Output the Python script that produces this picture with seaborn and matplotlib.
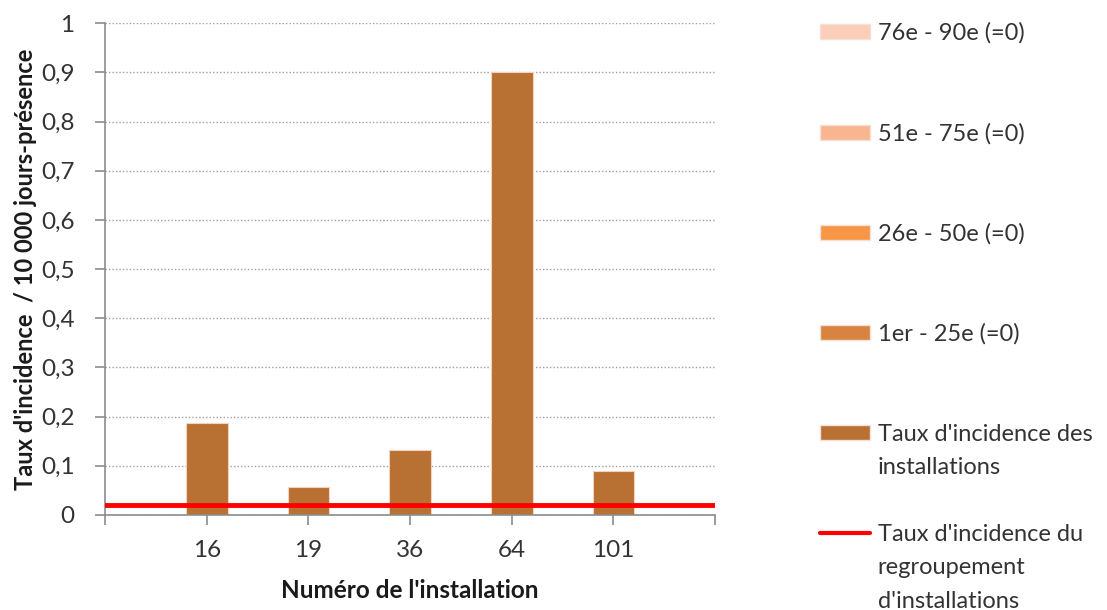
import pandas as pd
import matplotlib
matplotlib.use("Agg")
import matplotlib.pyplot as plt
from matplotlib.patches import Patch
from matplotlib.lines import Line2D
import seaborn as sns

# Data
installations = ["16", "19", "36", "64", "101"]
incidence = [0.187, 0.057, 0.131, 0.900, 0.089]
regroupement = 0.02

legend_labels = ["76e - 90e (=0)", "51e - 75e (=0)", "26e - 50e (=0)", "1er - 25e (=0)"]
legend_colors = ["#FCCDB7", "#F9B58F", "#F79646", "#D8833F"]
bar_color = "#B87033"
line_color = "#FF0000"

sns.set_style("white")
plt.rcParams["font.family"] = ["Lato", "DejaVu Sans"]
text_color = "#333333"

df = pd.DataFrame({"installation": installations, "taux": incidence})

fig = plt.figure(figsize=(11.07, 6.10), dpi=100)
ax = fig.add_axes([0.095, 0.156, 0.551, 0.806])

sns.barplot(data=df, x="installation", y="taux", order=installations,
            color=bar_color, saturation=1, width=0.41,
            edgecolor="#F3D3C0", linewidth=0.8, ax=ax, zorder=2)

ax.axhline(regroupement, color=line_color, lw=3.5, zorder=3)

ax.set_xlim(-1, 5)
ax.set_ylim(0, 1)
ax.set_xticks(range(-1, 6))
ax.set_xticklabels([""] + installations + [""])
yt = [i / 10 for i in range(11)]
ax.set_yticks(yt)
ax.set_yticklabels(["0" if v == 0 else ("1" if v == 1 else f"{v:.1f}".replace(".", ",")) for v in yt])

ax.yaxis.grid(True, linestyle=(0, (1, 1.5)), color="#A0A0A0", lw=1.0, zorder=0)
ax.xaxis.grid(False)
for s in ["top", "right"]:
    ax.spines[s].set_visible(False)
for s in ["left", "bottom"]:
    ax.spines[s].set_color("#8C8C8C")
    ax.spines[s].set_linewidth(1.2)

ax.tick_params(axis="both", which="major", direction="out", length=7, width=1.2,
               color="#8C8C8C", labelsize=17.5, labelcolor=text_color)
ax.tick_params(axis="y", left=True, pad=15)
ax.tick_params(axis="x", bottom=True, pad=11)

ax.set_xlabel("Numéro de l'installation", fontsize=17.5, fontweight="bold",
              color="#1a1a1a", labelpad=13)
ax.set_ylabel("Taux d'incidence  / 10 000 jours-présence", fontsize=17,
              fontweight="bold", color="#1a1a1a", labelpad=3)

# Legend: one entry per block, handle aligned with the first text line
blank = Patch(facecolor="none", edgecolor="none")
entries = [(Patch(facecolor=c, edgecolor="#F5E0D5"), [l]) for c, l in zip(legend_colors, legend_labels)]
entries.append((Patch(facecolor=bar_color, edgecolor="#F5E0D5"),
                ["Taux d'incidence des", "installations"]))
entries.append((Line2D([0], [0], color=line_color, lw=3),
                ["Taux d'incidence du", "regroupement", "d'installations"]))
first_line_y = [32, 133, 233, 333, 434, 534]
for (h, lines), ypix in zip(entries, first_line_y):
    handles = [h] + [blank] * (len(lines) - 1)
    leg = fig.legend(handles, lines, loc="upper left",
                     bbox_to_anchor=(0.741, 1 - (ypix - 10) / 610),
                     frameon=False, fontsize=17, handlelength=2.1, handleheight=0.6,
                     handletextpad=0.33, labelspacing=0.52, borderpad=0, borderaxespad=0)
    for t in leg.get_texts():
        t.set_color(text_color)

fig.savefig("out.png", dpi=100)
